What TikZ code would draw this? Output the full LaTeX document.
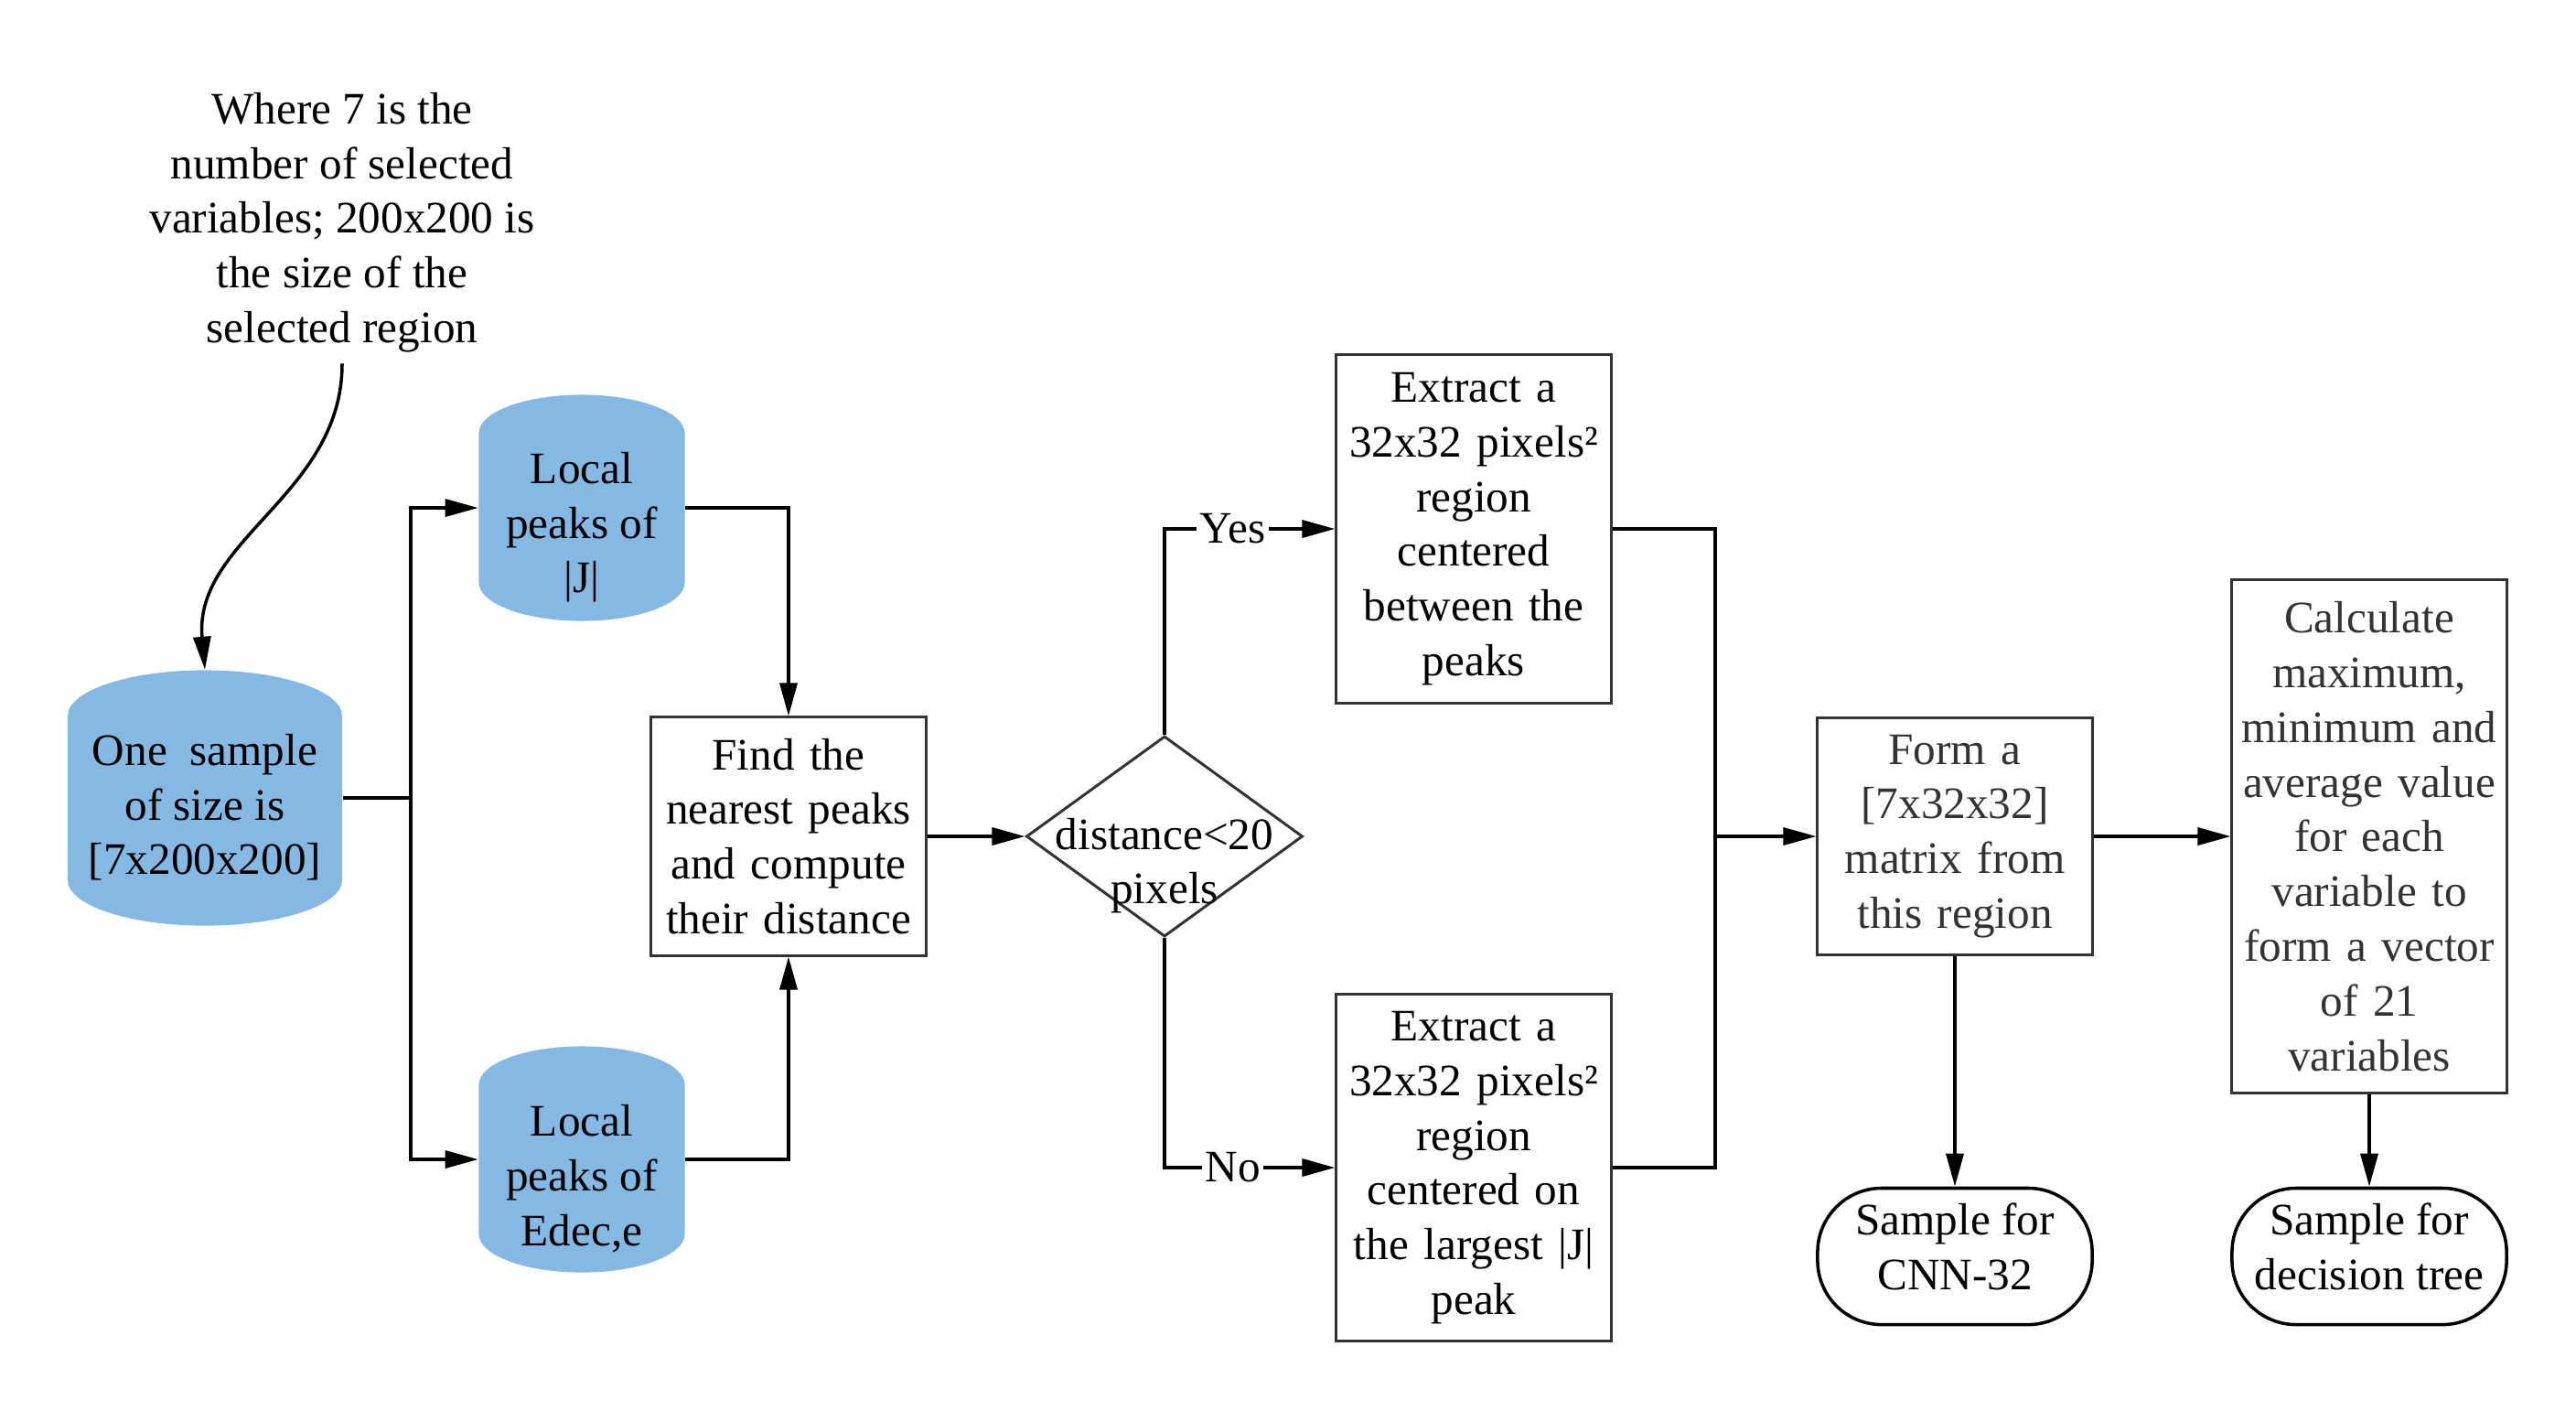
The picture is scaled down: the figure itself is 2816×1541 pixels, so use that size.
\documentclass[tikz,border=0pt]{standalone}
\usepackage{fontspec}
\setmainfont{Liberation Serif}
\usetikzlibrary{shapes.geometric,arrows.meta}
\definecolor{peakblue}{RGB}{133,185,227}
\definecolor{boxgray}{RGB}{51,51,51}

\begin{document}
\begin{tikzpicture}[x=0.01cm,y=-0.01cm,
	every node/.style={font=\fontsize{14}{17}\selectfont},
	store/.style={cylinder,shape border rotate=90,aspect=0.4,fill=peakblue,inner sep=0pt,anchor=shape center},
	box/.style={rectangle,draw=boxgray,line width=0.85pt,text width=2.8cm,inner xsep=0.1cm,align=center},
	decision/.style={diamond,draw=boxgray,line width=0.85pt,minimum width=3.02cm,minimum height=2.19cm,inner sep=0pt},
	term/.style={rectangle,rounded corners=0.7cm,draw,line width=1pt,minimum width=3cm,minimum height=1.49cm},
	choice/.style={fill=white,inner sep=1pt},
	arr/.style={-{Triangle[length=0.36cm,width=0.19cm]},line width=1pt},
	link/.style={line width=1pt}]
	\useasboundingbox (0,0) rectangle (2816,1541);

	% note and input sample
	\node[align=center] (note) at (374,243) {Where 7 is the\\number of selected\\variables; 200x200 is\\the size of the\\selected region};
	\node[store,text width=2.5cm,minimum width=3cm,minimum height=2.79cm,
		label={[align=center,yshift=0.15cm]center:One\ \ sample\\of size is\\{[}7x200x200]}] (sample) at (224,872) {};

	% local peaks
	\node[store,text width=2.1cm,minimum width=2.25cm,minimum height=2.47cm,
		label={[align=center]center:Local\\peaks of\\|J|}] (peakJ) at (636,555) {};
	\node[store,text width=2.1cm,minimum width=2.25cm,minimum height=2.47cm,
		label={[align=center]center:Local\\peaks of\\Edec,e}] (peakE) at (636,1267) {};

	\node[box,minimum height=2.6cm] (find) at (862,914) {Find the\\nearest peaks\\and compute\\their distance};
	\node[decision,label={[align=center,yshift=-0.32cm]center:distance<20\\pixels}] (dist) at (1273,914) {};

	% the two kinds of region
	\node[box,minimum height=3.81cm] (ext1) at (1611,578) {Extract a\\32x32 pixels²\\region\\centered\\between the\\peaks};
	\node[box,minimum height=3.78cm] (ext2) at (1611,1276) {Extract a\\32x32 pixels²\\region\\centered on\\the largest |J|\\peak};

	\node[box,text=boxgray,minimum height=2.58cm] (form) at (2137,914) {Form a\\{[}7x32x32]\\matrix from\\this region};
	\node[box,text=boxgray,minimum height=5.6cm] (calc) at (2590,914) {Calculate\\maximum,\\minimum and\\average value\\for each\\variable to\\form a vector\\of 21\\variables};

	\node[term,label={[align=center,yshift=0.11cm]center:Sample for\\CNN-32}] (cnn) at (2137,1373) {};
	\node[term,label={[align=center,yshift=0.11cm]center:Sample for\\decision tree}] (tree) at (2590,1373) {};

	\coordinate (split) at (449,872);
	\coordinate (merge) at (1875,914);

	% connectors
	\draw[arr] (note.south) to[out=-90,in=95] (sample.north);
	\draw[link] (sample.shape center -| sample.east) -- (split);
	\draw[arr] (split) |- (peakJ.shape center -| peakJ.west);
	\draw[arr] (split) |- (peakE.shape center -| peakE.west);
	\draw[arr] (peakJ.shape center -| peakJ.east) -| (find.north);
	\draw[arr] (peakE.shape center -| peakE.east) -| (find.south);
	\draw[arr] (find.east) -- (dist.west);
	\draw[arr] (dist.north) |- node[choice,pos=0.7] (yes) {Yes} (ext1.west);
	\draw[arr] (dist.south) |- node[choice,pos=0.7] (no) {No} (ext2.west);
	\draw[link] (ext1.east) -| (merge);
	\draw[link] (ext2.east) -| (merge);
	\draw[arr] (merge) -- (form.west);
	\draw[arr] (form.east) -- (calc.west);
	\draw[arr] (form.south) -- (cnn.north);
	\draw[arr] (calc.south) -- (tree.north);
\end{tikzpicture}
\end{document}
